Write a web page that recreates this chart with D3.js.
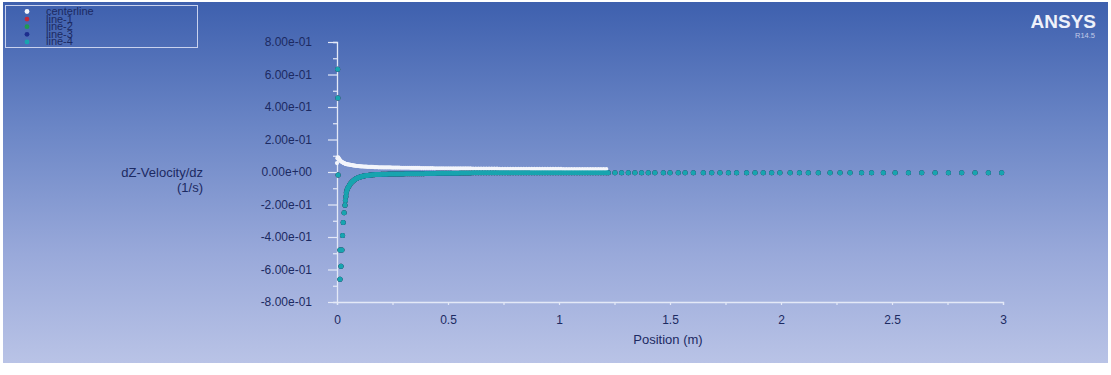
<!DOCTYPE html>
<html>
<head>
<meta charset="utf-8">
<script src="https://cdn.jsdelivr.net/npm/d3@7"></script>
<style>
  html, body { margin: 0; padding: 0; background: #ffffff; }
  svg { display: block; }
  text { font-family: "Liberation Sans", Arial, sans-serif; }
</style>
</head>
<body>
<svg id="chart" width="1111" height="375"></svg>
<script>
// ---- data -----------------------------------------------------------------
const seriesNames = ["centerline", "line-1", "line-2", "line-3", "line-4"];
const seriesColors = ["#f3f5fb", "#c22a3c", "#1f9a52", "#1d2d8e", "#18a4af"];

// fine mesh positions (m) shared by the centerline and the lines
const meshX = [
  0, 0.002, 0.004, 0.006, 0.009, 0.012, 0.015, 0.018, 0.021, 0.024,
  0.027, 0.030, 0.033, 0.036, 0.039, 0.042, 0.045, 0.048,
  0.052, 0.056, 0.060, 0.064, 0.068, 0.072, 0.076, 0.080, 0.085, 0.090,
  0.095, 0.100, 0.105, 0.110, 0.115, 0.120, 0.126, 0.132, 0.138, 0.144,
  0.150, 0.156, 0.162, 0.168, 0.174, 0.180, 0.187, 0.194, 0.201,
  0.208, 0.216, 0.224, 0.232, 0.240, 0.248, 0.256, 0.264, 0.272, 0.280,
  0.289, 0.298, 0.307, 0.316, 0.325, 0.334, 0.343, 0.352, 0.361, 0.370,
  0.380, 0.390, 0.400, 0.410, 0.420, 0.430, 0.440, 0.450, 0.460, 0.470,
  0.480, 0.491, 0.502, 0.513, 0.524, 0.535, 0.546, 0.557, 0.568, 0.579,
  0.590, 0.601,
  0.613, 0.625, 0.637, 0.649, 0.661, 0.673, 0.685, 0.697, 0.709, 0.721,
  0.733, 0.745, 0.757, 0.769, 0.781, 0.793, 0.805, 0.817, 0.829, 0.841,
  0.853, 0.865, 0.877, 0.889, 0.901, 0.913, 0.925, 0.937, 0.949, 0.961,
  0.973, 0.985, 0.997, 1.009, 1.021, 1.033, 1.045, 1.057, 1.069, 1.081,
  1.093, 1.105, 1.117, 1.129, 1.141, 1.153, 1.165, 1.177, 1.189, 1.201,
  1.213];

// centerline dZ-velocity/dz (1/s) on meshX
const centerY = [
  0.055, 0.084, 0.090, 0.088, 0.082, 0.075, 0.070, 0.066, 0.063, 0.060,
  0.058, 0.056, 0.054, 0.052, 0.050, 0.049, 0.048, 0.047,
  0.046, 0.045, 0.044, 0.043, 0.042, 0.041, 0.040, 0.039, 0.038, 0.037,
  0.037, 0.036, 0.035, 0.035, 0.034, 0.034, 0.033, 0.033, 0.032, 0.032,
  0.031, 0.031, 0.031, 0.030, 0.030, 0.030, 0.029, 0.029, 0.029,
  0.028, 0.028, 0.028, 0.028, 0.028, 0.027, 0.027, 0.027, 0.027, 0.027,
  0.026, 0.026, 0.026, 0.026, 0.026, 0.025, 0.025, 0.025, 0.025, 0.025,
  0.024, 0.024, 0.024, 0.024, 0.024, 0.024, 0.023, 0.023, 0.023, 0.023,
  0.023, 0.023, 0.023, 0.023, 0.022, 0.022, 0.022, 0.022, 0.022, 0.022,
  0.022, 0.022,
  0.021, 0.021, 0.021, 0.021, 0.021, 0.021, 0.021, 0.021, 0.021, 0.021,
  0.020, 0.020, 0.020, 0.020, 0.020, 0.020, 0.020, 0.020, 0.020, 0.020,
  0.020, 0.020, 0.019, 0.019, 0.019, 0.019, 0.019, 0.019, 0.019, 0.019,
  0.019, 0.019, 0.019, 0.019, 0.018, 0.018, 0.018, 0.018, 0.018, 0.018,
  0.018, 0.018, 0.018, 0.018, 0.018, 0.018, 0.018, 0.018, 0.018, 0.018,
  0.018];

// line-4 on meshX (no value inside the wall cell); lines 1-3 coincide with it
const lineMeshY = [
  null, null, null, null, null, null, null, null, null, null,
  null, null, null, null, null, null, -0.110, -0.100,
  -0.090, -0.081, -0.073, -0.066, -0.060, -0.055, -0.050, -0.046, -0.042, -0.038,
  -0.035, -0.032, -0.030, -0.028, -0.026, -0.024, -0.023, -0.022, -0.021, -0.020,
  -0.019, -0.018, -0.017, -0.017, -0.016, -0.016, -0.015, -0.015, -0.014,
  -0.014, -0.014, -0.014, -0.013, -0.013, -0.013, -0.013, -0.012, -0.012, -0.012,
  -0.012, -0.012, -0.011, -0.011, -0.011, -0.011, -0.011, -0.010, -0.010, -0.010,
  -0.010, -0.010, -0.009, -0.009, -0.009, -0.009, -0.009, -0.008, -0.008, -0.008,
  -0.008, -0.008, -0.007, -0.007, -0.007, -0.007, -0.007, -0.006, -0.006, -0.006,
  -0.006, -0.006,
  -0.005, -0.005, -0.005, -0.005, -0.005, -0.005, -0.005, -0.005, -0.005, -0.005,
  -0.005, -0.005, -0.005, -0.005, -0.005, -0.004, -0.004, -0.004, -0.004, -0.004,
  -0.004, -0.004, -0.004, -0.004, -0.004, -0.004, -0.004, -0.004, -0.004, -0.004,
  -0.004, -0.004, -0.004, -0.004, -0.004, -0.004, -0.004, -0.004, -0.004, -0.004,
  -0.004, -0.004, -0.004, -0.004, -0.004, -0.004, -0.004, -0.004, -0.004, -0.004,
  -0.004];

// line-4 near-wall points
const lineWallX = [0.003, 0.004, 0.005, 0.0135, 0.018, 0.0135, 0.022, 0.025, 0.028,
  0.032, 0.036, 0.038, 0.040, 0.042];
const lineWallY = [0.632, 0.455, -0.018, -0.660, -0.580, -0.480, -0.480, -0.390, -0.310,
  -0.250, -0.205, -0.175, -0.150, -0.128];

// line-4 coarse mesh points downstream
const lineFarX = [1.222, 1.252, 1.282, 1.312, 1.342, 1.372, 1.402, 1.432, 1.470, 1.500,
  1.537, 1.568, 1.605, 1.650, 1.688, 1.725, 1.763, 1.800, 1.845, 1.883,
  1.920, 1.958, 1.995, 2.041, 2.083, 2.123, 2.168, 2.221, 2.266, 2.311,
  2.363, 2.408, 2.461, 2.514, 2.574, 2.634, 2.694, 2.754, 2.814, 2.874,
  2.934, 2.994];
const lineFarY = [-0.004, -0.004, -0.004, -0.004, -0.004, -0.004, -0.004, -0.004, -0.004, -0.004,
  -0.004, -0.004, -0.004, -0.004, -0.004, -0.004, -0.004, -0.004, -0.004, -0.004,
  -0.004, -0.004, -0.004, -0.004, -0.004, -0.004, -0.004, -0.004, -0.004, -0.004,
  -0.004, -0.004, -0.004, -0.004, -0.004, -0.004, -0.004, -0.004, -0.004, -0.004,
  -0.004, -0.004];

const yTickValues = [-0.8, -0.6, -0.4, -0.2, 0, 0.2, 0.4, 0.6, 0.8];
const yTickLabels = ["-8.00e-01", "-6.00e-01", "-4.00e-01", "-2.00e-01", "0.00e+00",
  "2.00e-01", "4.00e-01", "6.00e-01", "8.00e-01"];
const xTickValues = [0, 0.5, 1, 1.5, 2, 2.5, 3];
const xTickLabels = ["0", "0.5", "1", "1.5", "2", "2.5", "3"];

// ---- drawing ----------------------------------------------------------------
const svg = d3.select("#chart");
const W = 1111;
const ink = "#1c2a62";
const axisInk = "#e4e9f7";

// panel background
const defs = svg.append("defs");
const grad = defs.append("linearGradient").attr("id", "bg")
  .attr("x1", 0).attr("y1", 0).attr("x2", 0).attr("y2", 1);
[["0", "#3e60ae"], ["0.35", "#6b86c6"], ["0.7", "#99a9da"], ["1", "#b9c3e6"]]
  .forEach(([o, c]) => grad.append("stop").attr("offset", o).attr("stop-color", c));
svg.append("rect").attr("x", 3).attr("y", 2).attr("width", W - 6).attr("height", 361)
  .attr("fill", "url(#bg)");

const x = d3.scaleLinear().domain([0, 3]).range([337, 1003]);
const y = d3.scaleLinear().domain([-0.8, 0.8]).range([302, 42]);

// y axis: minor ticks every 0.1, labelled majors every 0.2
const yAxis = svg.append("g").attr("transform", `translate(${x(0)},0)`);
yAxis.call(d3.axisLeft(y).tickValues(d3.range(-8, 9).map(d => d / 10))
  .tickSize(4).tickFormat(""));
yAxis.call(g => g.selectAll(".tick").filter(d => Math.abs(Math.round(d * 10)) % 2 === 0)
  .select("line").attr("x2", -9));
yAxis.append("g").call(d3.axisLeft(y).tickValues(yTickValues).tickSize(0)
  .tickPadding(25).tickFormat((d, i) => yTickLabels[i]));
yAxis.selectAll("path.domain").attr("stroke", axisInk).attr("stroke-width", 1.3);
yAxis.selectAll("line").attr("stroke", axisInk).attr("stroke-width", 1.2);
yAxis.selectAll("g > g path.domain").remove();
yAxis.selectAll("text").attr("fill", ink).attr("font-size", 12)
  .attr("font-family", "Liberation Sans, Arial, sans-serif");

// x axis
const xAxis = svg.append("g").attr("transform", `translate(0,${y(-0.8)})`);
xAxis.call(d3.axisBottom(x).tickValues(d3.range(0, 13).map(d => d / 4))
  .tickSize(3).tickFormat(""));
xAxis.append("g").call(d3.axisBottom(x).tickValues(xTickValues).tickSize(0)
  .tickPadding(13).tickFormat((d, i) => xTickLabels[i]));
xAxis.selectAll("path.domain").attr("stroke", axisInk).attr("stroke-width", 1.3);
xAxis.selectAll("line").attr("stroke", axisInk).attr("stroke-width", 1.2);
xAxis.selectAll("g > g path.domain").remove();
xAxis.selectAll("text").attr("fill", ink).attr("font-size", 12)
  .attr("font-family", "Liberation Sans, Arial, sans-serif");

// axis titles
svg.append("text").attr("x", 668).attr("y", 344).attr("text-anchor", "middle")
  .attr("font-size", 13).attr("fill", ink).text("Position (m)");
svg.append("text").attr("x", 203).attr("y", 177).attr("text-anchor", "end")
  .attr("font-size", 13).attr("fill", ink).text("dZ-Velocity/dz");
svg.append("text").attr("x", 203).attr("y", 192).attr("text-anchor", "end")
  .attr("font-size", 13).attr("fill", ink).text("(1/s)");

// data points
const centerPts = meshX.map((v, i) => [v, centerY[i]]);
const linePts = lineWallX.map((v, i) => [v, lineWallY[i]])
  .concat(meshX.map((v, i) => [v, lineMeshY[i]]).filter(d => d[1] !== null))
  .concat(lineFarX.map((v, i) => [v, lineFarY[i]]));

const plot = svg.append("g");
const layers = [
  { pts: linePts, color: seriesColors[1], r: 2.5 },
  { pts: linePts, color: seriesColors[2], r: 2.5 },
  { pts: linePts, color: seriesColors[3], r: 2.5 },
  { pts: centerPts, color: seriesColors[0], r: 2.1 },
  { pts: linePts, color: seriesColors[4], r: 2.5 }
];
layers.forEach(L => {
  plot.append("g").selectAll("circle").data(L.pts).join("circle")
    .attr("cx", d => x(d[0])).attr("cy", d => y(d[1]))
    .attr("r", L.r).attr("fill", L.color);
});

// legend
const legend = svg.append("g");
legend.append("rect").attr("x", 5.5).attr("y", 5.5).attr("width", 192).attr("height", 42)
  .attr("fill", "none").attr("stroke", "#c9d2ee").attr("stroke-width", 1);
seriesNames.forEach((name, i) => {
  const by = 15 + i * 7.6;
  legend.append("circle").attr("cx", 27).attr("cy", by - 3.5).attr("r", 2.4)
    .attr("fill", seriesColors[i]);
  legend.append("text").attr("x", 46).attr("y", by).attr("font-size", 11)
    .attr("fill", ink).text(name);
});

// product badge
svg.append("text").attr("x", 1096).attr("y", 28).attr("text-anchor", "end")
  .attr("font-size", 19).attr("font-weight", "bold").attr("fill", "#eef1fa")
  .text("ANSYS");
svg.append("text").attr("x", 1095).attr("y", 38).attr("text-anchor", "end")
  .attr("font-size", 7.5).attr("fill", "#c3cbe8").text("R14.5");
</script>
</body>
</html>
